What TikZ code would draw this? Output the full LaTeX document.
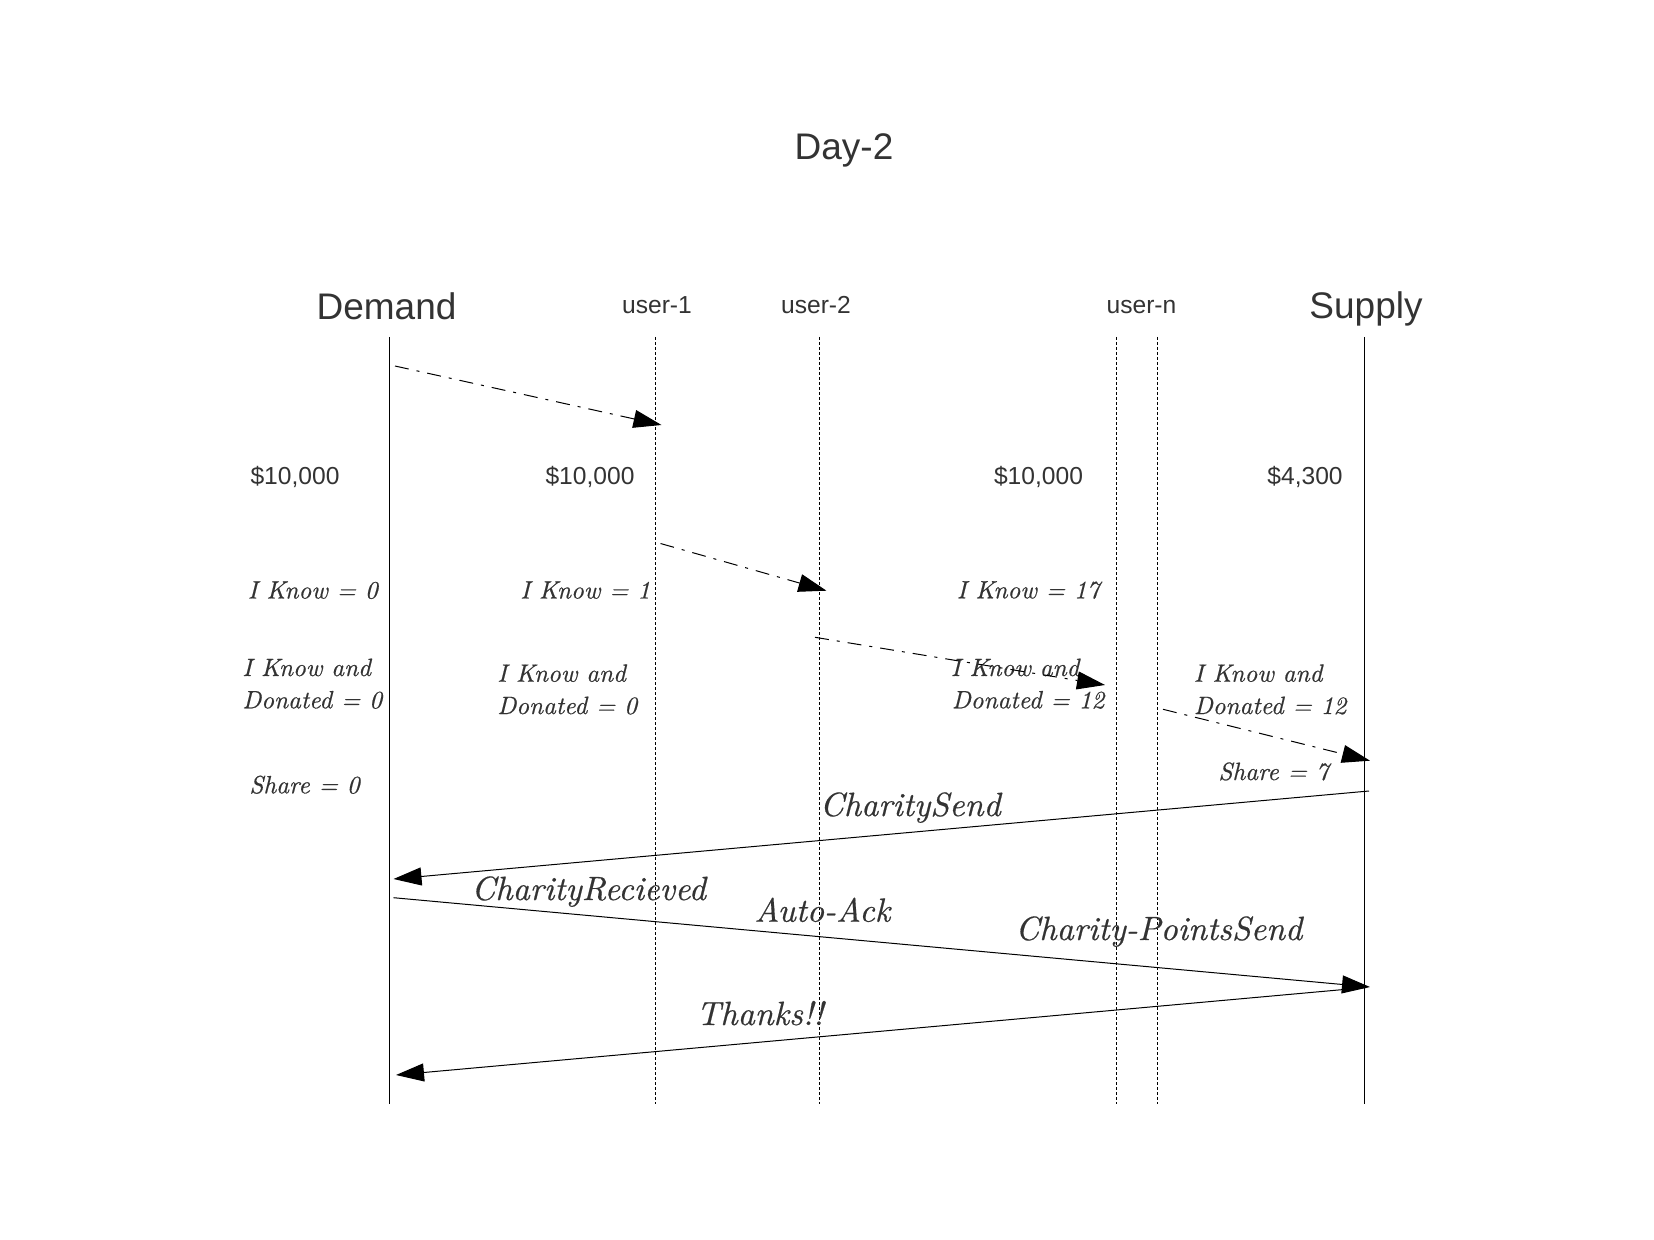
\documentclass[tikz,border=0pt]{standalone}
\usepackage{fontspec}
\setsansfont{Liberation Sans}
\newfontfamily\cmten[ItalicFont=lmroman10-italic.otf, ItalicFeatures={FakeBold=0.5}]{lmroman10-regular.otf}
\usetikzlibrary{arrows.meta}
\definecolor{txt}{HTML}{333333}
\begin{document}
\begin{tikzpicture}[x=0.5pt,y=-0.5pt,
  big/.style={font=\sffamily\fontsize{18.5}{22}\selectfont, text=txt, inner sep=0pt, anchor=base},
  small/.style={font=\sffamily\fontsize{12.3}{15}\selectfont, text=txt, inner sep=0pt, anchor=base},
  itl/.style={font=\cmten\itshape\fontsize{12.5}{16}\selectfont, text=txt, inner sep=0pt, anchor=base west},
  msg/.style={font=\cmten\itshape\fontsize{16.8}{19}\selectfont, text=txt, inner sep=0pt, anchor=base west},
  life/.style={line width=0.6pt, black},
  ulife/.style={line width=0.5pt, black, dash pattern=on 1.5pt off 1pt},
  dashmsg/.style={line width=0.5pt, black, dash pattern=on 7pt off 4pt on 1.5pt off 4pt, -{Triangle[length=14pt,width=9pt]}},
  solmsg/.style={line width=0.5pt, black, -{Triangle[length=14pt,width=9pt]}}
]
\useasboundingbox (0,0) rectangle (1654,1240);

% titles
\node[big] (title) at (844,160) {Day-2};
\node[big] (demand) at (386.5,319.3) {Demand};
\node[big] (supply) at (1366,318.3) {Supply};
\node[small] (u1) at (657,313.3) {user-1};
\node[small] (u2) at (816,313.5) {user-2};
\node[small] (un) at (1141.5,313.5) {user-n};

% lifelines
\coordinate (Dt) at (389.3,337); \coordinate (Db) at (389.3,1104);
\coordinate (U1t) at (655.3,337); \coordinate (U1b) at (655.3,1104);
\coordinate (U2t) at (819.6,337); \coordinate (U2b) at (819.6,1104);
\coordinate (N1t) at (1116.7,337); \coordinate (N1b) at (1116.7,1104);
\coordinate (N2t) at (1157.3,337); \coordinate (N2b) at (1157.3,1104);
\coordinate (St) at (1364.3,337); \coordinate (Sb) at (1364.3,1104);
\draw[life] (Dt) -- (Db);
\draw[life] (St) -- (Sb);
\draw[ulife] (U1t) -- (U1b);
\draw[ulife] (U2t) -- (U2b);
\draw[ulife] (N1t) -- (N1b);
\draw[ulife] (N2t) -- (N2b);

% amounts
\node[small] (m1) at (295,485) {\$10,000};
\node[small] (m2) at (590,485) {\$10,000};
\node[small] (m3) at (1038.5,485) {\$10,000};
\node[small] (m4) at (1305,485) {\$4,300};

% I know
\node[itl] (k0) at (247.5,598.5) {I Know = 0};
\node[itl] (k1) at (520,598.5) {I Know = 1};
\node[itl] (k17) at (956.5,598.3) {I Know = 17};

\node[itl] (a0) at (242,676) {I Know and};
\node[itl] (d0) at (242,708.3) {Donated = 0};
\node[itl] (a1) at (497,681.7) {I Know and};
\node[itl] (d1) at (497,714) {Donated = 0};
\node[itl] (a2) at (950.5,676) {I Know and};
\node[itl] (d2) at (951.5,708.3) {Donated = 12};
\node[itl] (a3) at (1193.5,681.7) {I Know and};
\node[itl] (d3) at (1193.5,714) {Donated = 12};

\node[itl] (s0) at (249,793.3) {Share = 0};
\node[itl] (s7) at (1218,780) {Share = 7};

% dash-dot messages
\coordinate (p1a) at (395,366);   \coordinate (p1b) at (661.5,425);
\coordinate (p2a) at (660.5,543.5); \coordinate (p2b) at (826.5,590.7);
\coordinate (p3a) at (815,637.3); \coordinate (p3b) at (1105,685);
\coordinate (p4a) at (1163,709.3); \coordinate (p4b) at (1370,760.7);
\draw[dashmsg] (p1a) -- (p1b);
\draw[dashmsg] (p2a) -- (p2b);
\draw[dashmsg] (p3a) -- (p3b);
\draw[dashmsg] (p4a) -- (p4b);

% solid messages
\coordinate (q1a) at (1369,791);   \coordinate (q1b) at (393.5,879);
\coordinate (q2a) at (393.5,897.7); \coordinate (q2b) at (1370,987);
\coordinate (q3a) at (1366,987.5); \coordinate (q3b) at (396,1075);
\draw[solmsg] (q1a) -- (q1b);
\draw[solmsg] (q2a) -- (q2b);
\draw[solmsg] (q3a) -- (q3b);

\node[msg] (l1) at (819.5,816) {CharitySend};
\node[msg] (l2) at (471,900) {CharityRecieved};
\node[msg] (l3) at (754,921.7) {Auto-Ack};
\node[msg] (l4) at (1015,940) {Charity-PointsSend};
\node[msg] (l5) at (696,1025) {Thanks!!};
\end{tikzpicture}
\end{document}
